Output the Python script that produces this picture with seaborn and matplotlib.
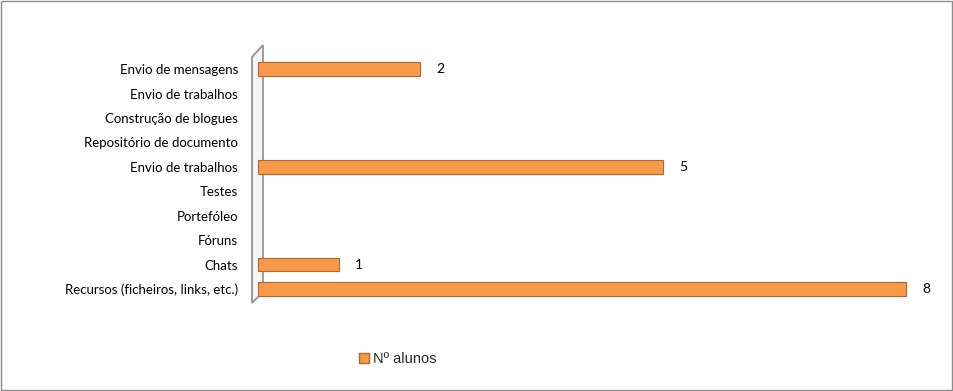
import matplotlib
matplotlib.use("Agg")
import matplotlib.pyplot as plt
import seaborn as sns
import pandas as pd
from matplotlib.patches import Rectangle, Polygon
from matplotlib.lines import Line2D

categories = ["Envio de mensagens", "Envio de trabalhos", "Construção de blogues",
              "Repositório de documento", "Envio de trabalhos", "Testes",
              "Portefóleo", "Fóruns", "Chats", "Recursos (ficheiros, links, etc.)"]
values = [2, 0, 0, 0, 5, 0, 0, 0, 1, 8]
series_name = "Nº alunos"

sns.set_theme(style="white")
plt.rcParams['font.family'] = ['Lato', 'DejaVu Sans']

keys = [f"k{i}" for i in range(len(categories))]
df = pd.DataFrame({"key": keys, "value": values, "serie": series_name})

fig = plt.figure(figsize=(9.54, 3.91), dpi=100)
ax = fig.add_axes([0.270, 0.217, 0.722, 0.650])
ax.patch.set_visible(False)

bar_color = "#F79A4A"
sns.barplot(data=df, x="value", y="key", order=keys, orient="h", color=bar_color,
            width=0.55, edgecolor="#B8652A", linewidth=0.8, ax=ax, saturation=1)
for p in ax.patches:
    if p.get_width() == 0:
        p.set_visible(False)

ax.set_xlim(0, 8.5)
ax.set_ylim(9.7, -0.7)
ax.set_yticks(range(len(categories)))
ax.set_yticklabels(categories, fontsize=9.5, color="#000000")
ax.tick_params(axis="y", length=0, pad=14)
ax.set_xticks([])
ax.set_xlabel("")
ax.set_ylabel("")
for s in ["top", "right", "bottom", "left"]:
    ax.spines[s].set_visible(False)

# 3D-like back wall (behind the bars)
wall_outer = [(252 / 954, 1 - 303 / 391), (252 / 954, 1 - 57 / 391),
              (263 / 954, 1 - 45 / 391), (263 / 954, 1 - 292 / 391)]
fig.patches.append(Polygon(wall_outer, closed=True, transform=fig.transFigure,
                           facecolor="#F4F4F4", edgecolor="#8C8C8C", linewidth=1.2,
                           zorder=-1))

for i, v in enumerate(values):
    if v > 0:
        ax.annotate(str(v), xy=(v, i), xytext=(12, 0), textcoords="offset points",
                    va="center", ha="left", fontsize=10, color="#000000")

# legend
handle = Line2D([], [], marker="s", linestyle="none", markersize=7,
                markerfacecolor=bar_color, markeredgecolor="#B8652A")
fig.legend([handle], [series_name], loc="center", bbox_to_anchor=(0.416, 1 - 359 / 391),
           frameon=False, prop={"family": ["Liberation Sans"], "size": 10.5},
           handletextpad=0.1, handlelength=1.0)

# outer border
fig.patches.append(Rectangle((0.001, 0.002), 0.997, 0.995, transform=fig.transFigure,
                             fill=False, edgecolor="#8C8C8C", linewidth=1))

fig.savefig("out.png", dpi=100)
